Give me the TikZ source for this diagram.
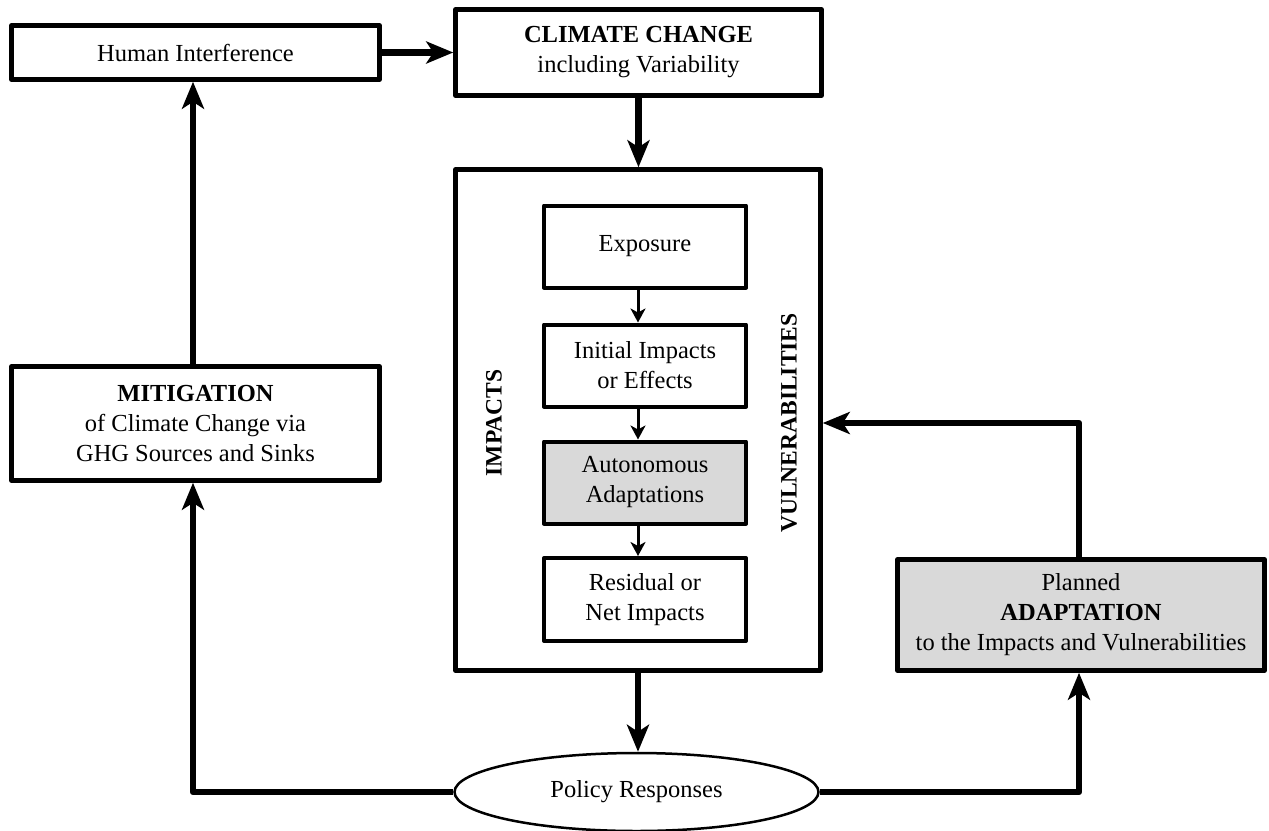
\documentclass[tikz,border=0pt]{standalone}
\usepackage{fontspec}
\setmainfont{Liberation Serif}
\usetikzlibrary{arrows.meta,shapes.geometric}
\definecolor{boxgray}{RGB}{217,217,217}
\tikzset{
  txt/.style={font=\fontsize{24.5}{30}\selectfont, inner sep=0pt, align=center},
  outerbox/.style={txt, draw, line width=4.5pt, line join=round, fill=white},
  innerbox/.style={txt, draw, line width=4pt, line join=round, fill=white,
    minimum width=202pt, minimum height=82pt},
  graybox/.style={fill=boxgray},
  bigarrow/.style={line width=6.5pt, line join=round,
    -{Stealth[length=27pt,width=22pt,inset=7pt]}},
  smallarrow/.style={line width=3pt,
    -{Stealth[length=14pt,width=15pt,inset=4pt]}},
  sidelabel/.style={font=\fontsize{23.5}{28}\selectfont\bfseries, inner sep=0pt, rotate=90}
}
\begin{document}
\begin{tikzpicture}[x=1pt,y=-1pt]
\useasboundingbox (0,0) rectangle (1269,830);

% top row
\node[outerbox, minimum width=368pt, minimum height=54pt] (human) at (195.5,52.5) {Human Interference};
\node[outerbox, minimum width=366pt, minimum height=86pt] (climate) at (638.5,52.5)
  {\textbf{CLIMATE CHANGE}\\including Variability};

% big impacts box
\node[draw, line width=4.5pt, line join=round, minimum width=365pt, minimum height=501pt, inner sep=0pt] (big) at (638,420) {};

\node[innerbox] (expo) at (645,246.5) {Exposure};
\node[innerbox] (init) at (645,365.5) {Initial Impacts\\or Effects};
\node[innerbox, graybox] (auto) at (645,482.5) {Autonomous\\Adaptations};
\node[innerbox, minimum height=83pt] (resid) at (645,599.5) {Residual or\\Net Impacts};

\node[sidelabel] (imp) at (494,423) {IMPACTS};
\node[sidelabel] (vul) at (789,423) {VULNERABILITIES};

% left and right boxes
\node[outerbox, minimum width=368pt, minimum height=114pt] (mitig) at (195.5,423.5)
  {\textbf{MITIGATION}\\of Climate Change via\\GHG Sources and Sinks};
\node[outerbox, graybox, minimum width=367pt, minimum height=111pt] (adapt) at (1081,615)
  {Planned\\\textbf{ADAPTATION}\\to the Impacts and Vulnerabilities};

% policy ellipse
\node[txt, draw, ellipse, line width=2.5pt, fill=white, minimum width=364pt, minimum height=78pt] (policy) at (636.5,792) {Policy Responses};

% helper coordinates
\coordinate (ax) at (638,0);
\coordinate (lx) at (193,0);
\coordinate (rx) at (1079,0);
\coordinate (ay) at (0,423);

% connectors
\draw[bigarrow] (human) -- (climate);
\draw[bigarrow] (climate.south) -- (climate.south |- big.north);
\draw[bigarrow] (big.south) -- (big.south |- policy.north);
\draw[smallarrow] (expo.south -| ax) -- (init.north -| ax);
\draw[smallarrow] (init.south -| ax) -- (auto.north -| ax);
\draw[smallarrow] (auto.south -| ax) -- (resid.north -| ax);
\draw[bigarrow] (mitig.north -| lx) -- (human.south -| lx);
\draw[bigarrow] (policy.west) -- (policy.west -| lx) -- (mitig.south -| lx);
\draw[bigarrow] (policy.east) -- (policy.east -| rx) -- (adapt.south -| rx);
\draw[bigarrow] (adapt.north -| rx) -- (rx |- ay) -- (big.east |- ay);
\end{tikzpicture}
\end{document}
